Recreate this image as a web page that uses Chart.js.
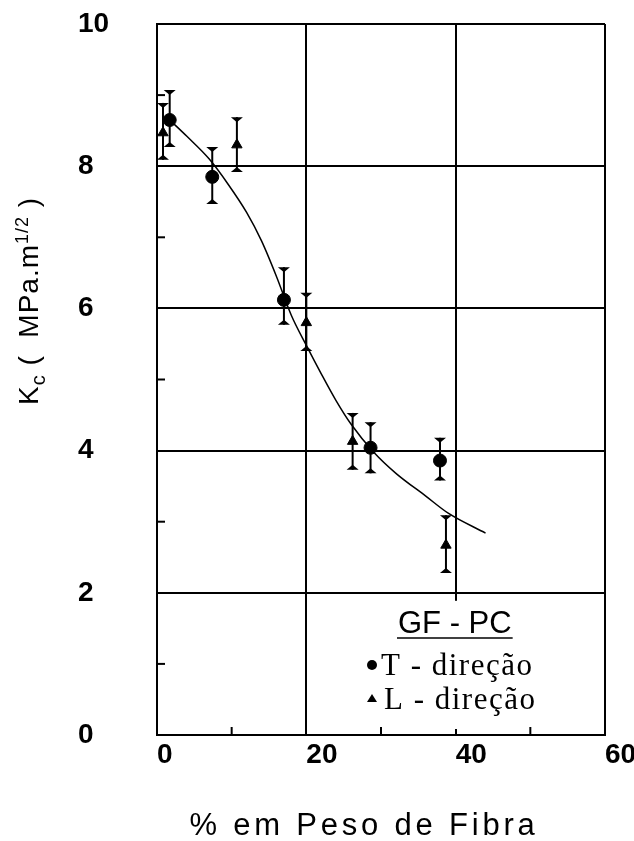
<!DOCTYPE html>
<html>
<head>
<meta charset="utf-8">
<script src="https://cdn.jsdelivr.net/npm/chart.js@4/dist/chart.umd.min.js"></script>
<style>
  body { margin: 0; background: #fff; }
  canvas { display: block; }
</style>
</head>
<body>
<canvas id="graf" width="634" height="841"></canvas>
<script>
// pontos T - direcao
var tX = [1.7, 7.4, 17.0, 28.6, 37.9];
var tY = [8.65, 7.85, 6.12, 4.04, 3.86];
var tLow = [8.27, 7.47, 5.77, 3.68, 3.58];
var tHigh = [9.07, 8.27, 6.58, 4.40, 4.18];

// pontos L - direcao
var lX = [0.8, 10.7, 20.0, 26.2, 38.7];
var lY = [8.47, 8.30, 5.80, 4.13, 2.67];
var lLow = [8.09, 7.92, 5.40, 3.73, 2.28];
var lHigh = [8.89, 8.69, 6.22, 4.53, 3.09];

// curva ajustada
var fitX = [1.7, 4, 7, 9.5, 12, 14, 16, 18, 20, 22, 24, 26, 29, 32, 36, 39, 44];
var fitY = [8.65, 8.42, 8.1, 7.75, 7.35, 6.95, 6.45, 5.9, 5.48, 5.08, 4.7, 4.37, 3.98, 3.68, 3.36, 3.12, 2.84];

// ticks
var xTicks = [0, 20, 40, 60];
var yTicks = [0, 2, 4, 6, 8, 10];
var xMinor = [10, 30, 50];
var yMinor = [1, 3, 5, 7, 9];

var xTitle = '% em Peso de Fibra';
var legendTitle = 'GF - PC';
var legendT = 'T - direção';
var legendL = 'L - direção';

function pts(xs, ys) {
    var out = [];
    for (var i = 0; i < xs.length; i++) {
        out.push({ x: xs[i], y: ys[i] });
    }
    return out;
}

// barras de erro com pontas em triangulo
var errorBars = {
    id: 'errorBars',
    beforeDatasetsDraw: function (chart) {
        var ctx = chart.ctx;
        var sx = chart.scales.x, sy = chart.scales.y;
        var sets = [[tX, tLow, tHigh], [lX, lLow, lHigh]];
        ctx.save();
        ctx.strokeStyle = '#000';
        ctx.fillStyle = '#000';
        ctx.lineWidth = 2;
        sets.forEach(function (s) {
            for (var i = 0; i < s[0].length; i++) {
                var px = sx.getPixelForValue(s[0][i]);
                var top = sy.getPixelForValue(s[2][i]);
                var bot = sy.getPixelForValue(s[1][i]);
                ctx.beginPath();
                ctx.moveTo(px, top);
                ctx.lineTo(px, bot);
                ctx.stroke();
                ctx.beginPath();
                ctx.moveTo(px - 6, top);
                ctx.lineTo(px + 6, top);
                ctx.lineTo(px, top + 5);
                ctx.closePath();
                ctx.fill();
                ctx.beginPath();
                ctx.moveTo(px - 6, bot);
                ctx.lineTo(px + 6, bot);
                ctx.lineTo(px, bot - 5);
                ctx.closePath();
                ctx.fill();
            }
        });
        ctx.restore();
    }
};

// legenda, ticks internos e titulos dos eixos
var extras = {
    id: 'extras',
    afterDraw: function (chart) {
        var ctx = chart.ctx;
        var sx = chart.scales.x, sy = chart.scales.y;
        var area = chart.chartArea;
        ctx.save();

        // caixa da legenda
        var boxTop = sy.getPixelForValue(2) + 8;
        ctx.fillStyle = '#fff';
        ctx.fillRect(335, boxTop, area.right - 2 - 335, area.bottom - 6 - boxTop);

        ctx.fillStyle = '#000';
        ctx.strokeStyle = '#000';
        ctx.font = '31px "Liberation Sans", Arial, sans-serif';
        ctx.textBaseline = 'alphabetic';
        ctx.textAlign = 'left';
        ctx.fillText(legendTitle, 398, 633);
        var w = ctx.measureText(legendTitle).width;
        ctx.lineWidth = 1.5;
        ctx.beginPath();
        ctx.moveTo(397, 638);
        ctx.lineTo(399 + w, 638);
        ctx.stroke();

        ctx.font = '31px "Liberation Serif", "Times New Roman", serif';
        ctx.letterSpacing = '1.5px';
        ctx.fillText(legendT, 381, 675);
        ctx.fillText(legendL, 384, 709);
        ctx.letterSpacing = '0px';

        ctx.beginPath();
        ctx.arc(372, 665, 5, 0, Math.PI * 2);
        ctx.fill();
        ctx.beginPath();
        ctx.moveTo(367, 702);
        ctx.lineTo(377, 702);
        ctx.lineTo(372, 694);
        ctx.closePath();
        ctx.fill();

        // ticks menores voltados para dentro
        ctx.lineWidth = 2;
        yMinor.forEach(function (v) {
            var py = sy.getPixelForValue(v);
            ctx.beginPath();
            ctx.moveTo(area.left, py);
            ctx.lineTo(area.left + 8, py);
            ctx.stroke();
        });
        xMinor.forEach(function (v) {
            var px = sx.getPixelForValue(v);
            ctx.beginPath();
            ctx.moveTo(px, area.bottom);
            ctx.lineTo(px, area.bottom - 8);
            ctx.stroke();
        });

        // titulo eixo x
        ctx.font = '31px "Liberation Sans", Arial, sans-serif';
        ctx.letterSpacing = '3.8px';
        ctx.textAlign = 'center';
        ctx.fillText(xTitle, 364, 835);
        ctx.letterSpacing = '0px';

        // titulo eixo y com indice e expoente
        ctx.translate(38, 405);
        ctx.rotate(-Math.PI / 2);
        ctx.textAlign = 'left';
        var x = 0;
        var parts = [
            ['K', 28, 0],
            ['c', 20, 7],
            [' (  MPa.m', 28, 0],
            ['1/2', 18, -10],
            [' )', 28, 0]
        ];
        parts.forEach(function (p) {
            ctx.font = p[1] + 'px "Liberation Sans", Arial, sans-serif';
            ctx.letterSpacing = '1px';
            ctx.fillText(p[0], x, p[2]);
            x += ctx.measureText(p[0]).width;
        });
        ctx.restore();
    }
};

var ctx = document.getElementById('graf');
var grafico = new Chart(ctx, {
    type: 'scatter',
    data: {
        datasets: [{
            type: 'line',
            data: pts(fitX, fitY),
            borderColor: '#000',
            borderWidth: 1.5,
            pointRadius: 0,
            cubicInterpolationMode: 'monotone',
            fill: false
        }, {
            data: pts(tX, tY),
            pointStyle: 'circle',
            pointRadius: 6.5,
            backgroundColor: '#000',
            borderColor: '#000'
        }, {
            data: pts(lX, lY),
            pointStyle: 'triangle',
            pointRadius: 6,
            backgroundColor: '#000',
            borderColor: '#000'
        }]
    },
    options: {
        responsive: false,
        animation: false,
        layout: { padding: { left: 78, right: 29, top: 24, bottom: 0 } },
        plugins: {
            legend: { display: false },
            tooltip: { enabled: false }
        },
        scales: {
            x: {
                type: 'linear',
                min: 0,
                max: 60,
                afterBuildTicks: function (scale) {
                    scale.ticks = xTicks.concat(xMinor).sort(function (a, b) { return a - b; })
                        .map(function (v) { return { value: v }; });
                },
                afterFit: function (scale) {
                    scale.height = 106;
                    scale.paddingLeft = 0;
                    scale.paddingRight = 0;
                },
                ticks: {
                    autoSkip: false,
                    maxRotation: 0,
                    align: 'start',
                    padding: 3,
                    color: '#000',
                    font: { family: '"Liberation Sans", Arial, sans-serif', size: 28, weight: 'bold' },
                    callback: function (v) { return xTicks.indexOf(v) >= 0 ? v : ''; }
                },
                grid: {
                    drawTicks: false,
                    lineWidth: 2,
                    color: function (c) { return xTicks.indexOf(c.tick.value) >= 0 ? '#000' : 'rgba(0,0,0,0)'; }
                },
                border: { display: true, color: '#000', width: 2 }
            },
            y: {
                min: 0,
                max: 10,
                afterBuildTicks: function (scale) {
                    scale.ticks = yTicks.concat(yMinor).sort(function (a, b) { return a - b; })
                        .map(function (v) { return { value: v }; });
                },
                afterFit: function (scale) {
                    scale.width = 79;
                    scale.paddingTop = 0;
                    scale.paddingBottom = 0;
                },
                ticks: {
                    autoSkip: false,
                    crossAlign: 'far',
                    color: '#000',
                    font: { family: '"Liberation Sans", Arial, sans-serif', size: 28, weight: 'bold' },
                    callback: function (v) { return yTicks.indexOf(v) >= 0 ? v : ''; }
                },
                grid: {
                    drawTicks: false,
                    lineWidth: 2,
                    color: function (c) { return yTicks.indexOf(c.tick.value) >= 0 ? '#000' : 'rgba(0,0,0,0)'; }
                },
                border: { display: true, color: '#000', width: 2 }
            }
        }
    },
    plugins: [errorBars, extras]
});
</script>
</body>
</html>
